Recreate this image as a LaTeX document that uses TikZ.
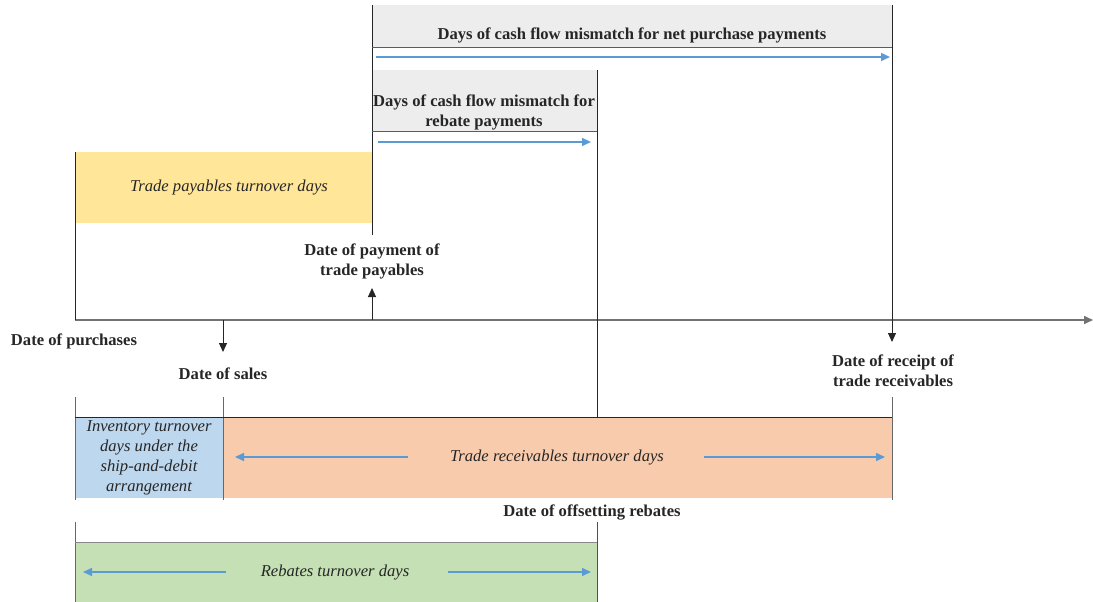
\documentclass[tikz,border=0pt]{standalone}
\usepackage{fontspec}
\setmainfont{Liberation Serif}
\usetikzlibrary{arrows.meta}
\definecolor{hdrgray}{HTML}{EDEDED}
\definecolor{payyellow}{HTML}{FFE699}
\definecolor{invblue}{HTML}{BDD7EE}
\definecolor{recorange}{HTML}{F8CBAD}
\definecolor{rebgreen}{HTML}{C5E0B4}
\definecolor{arrblue}{HTML}{5B9BD5}
\definecolor{inkdark}{HTML}{262626}
\definecolor{axisgray}{HTML}{7F7F7F}
\begin{document}
\begin{tikzpicture}[x=1pt,y=-1pt,
  band/.style={draw=none,inner sep=0pt,anchor=north west},
  lbl/.style={font=\fontsize{16.6}{20}\selectfont\bfseries,text=inkdark,align=center,inner sep=0pt},
  itl/.style={font=\fontsize{16.6}{20}\selectfont\itshape,text=inkdark,align=center,inner sep=0pt},
  rule/.style={draw=inkdark,line width=1pt},
  span/.style={draw=arrblue,line width=1.5pt,-{Triangle[length=9pt,width=8pt]}},
  tick/.style={draw=inkdark,line width=1pt,-{Triangle[length=9pt,width=8pt]}}]
\useasboundingbox (0,0) rectangle (1093,602);

% shaded bands
\node[band,fill=hdrgray,minimum width=520pt,minimum height=42pt] (nethdr) at (372,5) {};
\node[band,fill=hdrgray,minimum width=225pt,minimum height=61pt] (rebhdr) at (372,70) {};
\node[band,fill=payyellow,minimum width=297pt,minimum height=71pt] (pay) at (75,152) {};
\node[band,fill=invblue,minimum width=148pt,minimum height=81pt] (inv) at (75,417) {};
\node[band,fill=recorange,minimum width=669pt,minimum height=81pt] (rec) at (223,417) {};
\node[band,fill=rebgreen,minimum width=522pt,minimum height=60pt] (reb) at (75,542) {};

% reference points
\coordinate (pT) at (372,5);   \coordinate (pB) at (372,235);
\coordinate (rT) at (892,5);   \coordinate (rB) at (892,342);
\coordinate (oT) at (597,70);  \coordinate (oB) at (597,417);
\coordinate (lT) at (75,152);  \coordinate (lB) at (75,320);
\coordinate (axL) at (75,320); \coordinate (axR) at (1093,320);
\coordinate (sA) at (223,320); \coordinate (sB) at (223,352);
\coordinate (qA) at (372,320); \coordinate (qB) at (372,288);

% time axis
\draw[draw=inkdark!65,line width=1.6pt,-{Triangle[length=9pt,width=8pt]}] (axL) -- (axR);

% vertical markers
\draw[rule] (pT) -- (pB);
\draw[tick] (rT) -- (rB);
\draw[rule] (oT) -- (oB);
\draw[rule] (lT) -- (lB);
\draw[tick] (sA) -- (sB);
\draw[tick] (qA) -- (qB);

% header underlines
\draw[rule,draw=inkdark!75,line width=1.3pt] (nethdr.south west) -- (nethdr.south east);
\draw[rule,draw=inkdark!75,line width=1.3pt] (rebhdr.south west) -- (rebhdr.south east);

% header texts and arrows
\node[lbl] (nettxt) at (632,35) {Days of cash flow mismatch for net purchase payments};
\coordinate (naL) at (376,57); \coordinate (naR) at (890,57);
\draw[span] (naL) -- (naR);
\node[lbl] (rebtxt) at (484,112) {Days of cash flow mismatch for\\rebate payments};
\coordinate (raL) at (378,142); \coordinate (raR) at (591,142);
\draw[span] (raL) -- (raR);

% payables band text
\node[itl] (paytxt) at (229,188) {Trade payables turnover days};

% date labels
\node[lbl] (dpur) at (74,341) {Date of purchases};
\node[lbl] (dsal) at (223,374) {Date of sales};
\node[lbl] (dpay) at (372,261) {Date of payment of\\trade payables};
\node[lbl] (drec) at (893,371) {Date of receipt of\\trade receivables};
\node[lbl] (doff) at (592,512) {Date of offsetting rebates};

% lower band frame
\coordinate (iT) at (75,397);  \coordinate (iB) at (75,500);
\coordinate (sT) at (223,397); \coordinate (sBt) at (223,500);
\coordinate (eT) at (892,397); \coordinate (eB) at (892,500);
\draw[rule,draw=inkdark!70] (iT) -- (iB);
\draw[rule,draw=inkdark!70] (sT) -- (sBt);
\draw[rule,draw=inkdark!70] (eT) -- (eB);
\draw[rule] (inv.north west) -- (rec.north east);

\node[itl] (invtxt) at (149,458) {Inventory turnover\\days under the\\ship-and-debit\\arrangement};
\node[itl] (rectxt) at (557,458) {Trade receivables turnover days};
\coordinate (rcL1) at (408,457); \coordinate (rcL2) at (235,457);
\coordinate (rcR1) at (704,457); \coordinate (rcR2) at (885,457);
\draw[span] (rcL1) -- (rcL2);
\draw[span] (rcR1) -- (rcR2);

% rebates band frame
\coordinate (gL1) at (75,522);  \coordinate (gL2) at (75,602);
\coordinate (gR1) at (597,522); \coordinate (gR2) at (597,602);
\draw[rule,draw=inkdark!70] (gL1) -- (gL2);
\draw[rule,draw=inkdark!80] (gR1) -- (gR2);
\draw[rule,draw=inkdark!55] (reb.north west) -- (reb.north east);

\node[itl] (rebdays) at (335,573) {Rebates turnover days};
\coordinate (gaL1) at (226,572); \coordinate (gaL2) at (83,572);
\coordinate (gaR1) at (448,572); \coordinate (gaR2) at (591,572);
\draw[span] (gaL1) -- (gaL2);
\draw[span] (gaR1) -- (gaR2);
\end{tikzpicture}
\end{document}
